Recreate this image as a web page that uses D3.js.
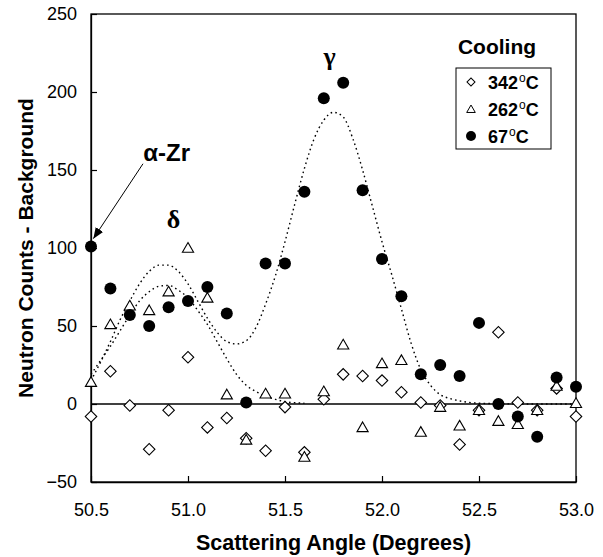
<!DOCTYPE html>
<html>
<head>
<meta charset="utf-8">
<script src="https://cdn.jsdelivr.net/npm/d3@7"></script>
<style>
  body { margin: 0; background: #fff; }
  svg { display: block; font-family: "Liberation Sans", Arial, Helvetica, sans-serif; }
</style>
</head>
<body>
<svg id="chart" width="603" height="557"></svg>
<script>
// ---- data ----
const angles = [50.5,50.6,50.7,50.8,50.9,51.0,51.1,51.2,51.3,51.4,51.5,51.6,51.7,51.8,51.9,52.0,52.1,52.2,52.3,52.4,52.5,52.6,52.7,52.8,52.9,53.0];
const counts342 = [-8,21,-1,-29,-4,30,-15,-9,-22,-30,-2,-31,3,19,18,15,7.5,1,-1,-26,-4,46,1,-4,10,-8];
const counts262 = [14,51,63,60,72,100,68,6,-23,6.6,6.6,-34,8,38,-15,26,28,-18,-2,-14,-4,-11,-13,-4,11.5,0.5];
const counts67  = [101,74,57,50,62,66,75,58,1,90,90,136,196,206,137,93,69,19,25,18,52,0,-8,-21,17,11];

// fitted curves
const fit67X = [50.50,50.55,50.60,50.65,50.70,50.75,50.80,50.85,50.90,50.95,51.00,51.05,51.10,51.15,51.20,51.25,51.30,51.35,51.40,51.45,51.50,51.55,51.60,51.65,51.70,51.75,51.80,51.85,51.90,51.95,52.00,52.05,52.10,52.15,52.20,52.25,52.30,52.35,52.40,52.50,52.60,52.70,52.80,52.90,53.00];
const fit67Y = [15,27,40,54,66,77,85,89,89,85,77,66,55,46,40,38.5,40.5,49,64,82,104,128,151,170,182,187,184,170,150,127,104,83,61,39,22,12,6,3.5,2,0.5,0.2,0,0,0,0];
const fit262X = [50.50,50.55,50.60,50.65,50.70,50.75,50.80,50.85,50.90,50.95,51.00,51.05,51.10,51.15,51.20,51.25,51.30,51.35,51.40,51.45,51.50,51.60];
const fit262Y = [19,28,37,47,57,66,72,75.5,76,73,68,60,51,40,29,19,12,8,5,3,1.5,0.5];

const xTicks = [50.5,51.0,51.5,52.0,52.5,53.0];
const yTicks = [-50,0,50,100,150,200,250];
const seriesNames = ["342", "262", "67"];
const legendTitle = "Cooling";

// ---- layout ----
const W = 603, H = 557;
const margin = {left: 91, top: 14, right: 27, bottom: 75};
const svg = d3.select("#chart");
const x = d3.scaleLinear().domain([50.5, 53.0]).range([margin.left, W - margin.right]);
const y = d3.scaleLinear().domain([-50, 250]).range([H - margin.bottom, margin.top]);

// frame
svg.append("rect")
  .attr("x", x(50.5)).attr("y", y(250))
  .attr("width", x(53.0) - x(50.5)).attr("height", y(-50) - y(250))
  .attr("fill", "none").attr("stroke", "#000").attr("stroke-width", 1.3);

// axes
const xAxis = d3.axisBottom(x).tickValues(xTicks).tickFormat(d3.format(".1f"))
  .tickSizeInner(-6).tickSizeOuter(0).tickPadding(21);
const gx = svg.append("g").attr("transform", `translate(0,${y(-50)})`).call(xAxis);
const yAxis = d3.axisLeft(y).tickValues(yTicks).tickFormat(d3.format("d"))
  .tickSizeInner(-6).tickSizeOuter(0).tickPadding(14);
const gy = svg.append("g").attr("transform", `translate(${x(50.5)},0)`).call(yAxis);
[gx, gy].forEach(g => {
  g.selectAll("text").attr("font-size", 18).attr("fill", "#000")
    .attr("font-family", "'Liberation Sans', Arial, sans-serif");
  g.selectAll("line").attr("stroke", "#000").attr("stroke-width", 1.2);
  g.select(".domain").attr("stroke", "#000").attr("stroke-width", 1.3);
});

// axis titles
svg.append("text")
  .attr("x", (x(50.5) + x(53.0)) / 2).attr("y", 550)
  .attr("text-anchor", "middle").attr("font-size", 21.5).attr("font-weight", "bold")
  .text("Scattering Angle (Degrees)");
svg.append("text")
  .attr("transform", `translate(33,${(y(-50) + y(250)) / 2}) rotate(-90)`)
  .attr("text-anchor", "middle").attr("font-size", 21).attr("font-weight", "bold")
  .text("Neutron Counts - Background");

// zero line
svg.append("line")
  .attr("x1", x(50.5)).attr("x2", x(53.0)).attr("y1", y(0)).attr("y2", y(0))
  .attr("stroke", "#000").attr("stroke-width", 1.3);

// fitted curves
const line = d3.line().x(d => x(d[0])).y(d => y(d[1])).curve(d3.curveMonotoneX);
[[fit67X, fit67Y], [fit262X, fit262Y]].forEach(([xs, ys]) => {
  svg.append("path")
    .datum(xs.map((v, i) => [v, ys[i]]))
    .attr("d", line)
    .attr("fill", "none").attr("stroke", "#000").attr("stroke-width", 1.4)
    .attr("stroke-dasharray", "1.6,3.2");
});

// markers
const symDiamond = d3.symbol().type(d3.symbolSquare).size(66);
const symTriangle = d3.symbol().type(d3.symbolTriangle).size(54);
const symCircle = d3.symbol().type(d3.symbolCircle).size(Math.PI * 6 * 6);

function drawSeries(vals, kind) {
  const g = svg.append("g");
  vals.forEach((v, i) => {
    const px = x(angles[i]), py = y(v);
    if (kind === 0) {
      g.append("path").attr("d", symDiamond())
        .attr("transform", `translate(${px},${py}) rotate(45)`)
        .attr("fill", "#fff").attr("stroke", "#000").attr("stroke-width", 1.1);
    } else if (kind === 1) {
      g.append("path").attr("d", symTriangle())
        .attr("transform", `translate(${px},${py + 1})`)
        .attr("fill", "#fff").attr("stroke", "#000").attr("stroke-width", 1.1);
    } else {
      g.append("path").attr("d", symCircle())
        .attr("transform", `translate(${px},${py})`)
        .attr("fill", "#000");
    }
  });
}
drawSeries(counts342, 0);
drawSeries(counts262, 1);
drawSeries(counts67, 2);

// annotations
svg.append("text")
  .attr("x", x(50.89)).attr("y", y(156))
  .attr("text-anchor", "middle").attr("font-size", 24).attr("font-weight", "bold")
  .text("α-Zr");
svg.append("text")
  .attr("x", x(50.925)).attr("y", y(113))
  .attr("text-anchor", "middle").attr("font-size", 26).attr("font-weight", "bold")
  .attr("font-family", "'Liberation Serif', 'Times New Roman', serif")
  .text("δ");
svg.append("text")
  .attr("x", x(51.73)).attr("y", y(217))
  .attr("text-anchor", "middle").attr("font-size", 26).attr("font-weight", "bold")
  .attr("font-family", "'Liberation Serif', 'Times New Roman', serif")
  .text("γ");

// arrow
const defs = svg.append("defs");
defs.append("marker").attr("id", "arr")
  .attr("viewBox", "0 0 10 10").attr("refX", 10).attr("refY", 5)
  .attr("markerWidth", 11).attr("markerHeight", 11).attr("markerUnits", "userSpaceOnUse")
  .attr("orient", "auto")
  .append("path").attr("d", "M0,1 L10,5 L0,9 Z").attr("fill", "#000");
svg.append("line")
  .attr("x1", x(50.768)).attr("y1", y(154))
  .attr("x2", x(50.512)).attr("y2", y(106))
  .attr("stroke", "#000").attr("stroke-width", 1)
  .attr("marker-end", "url(#arr)");

// legend
svg.append("text").attr("x", 497).attr("y", 54)
  .attr("text-anchor", "middle").attr("font-size", 21).attr("font-weight", "bold")
  .text(legendTitle);
svg.append("rect").attr("x", 456).attr("y", 68).attr("width", 95).attr("height", 81)
  .attr("fill", "#fff").attr("stroke", "#000").attr("stroke-width", 1);
const legY = [82, 109, 136];
seriesNames.forEach((name, i) => {
  const cy = legY[i];
  if (i === 0) {
    svg.append("path").attr("d", d3.symbol().type(d3.symbolSquare).size(32)())
      .attr("transform", `translate(471,${cy}) rotate(45)`)
      .attr("fill", "#fff").attr("stroke", "#000").attr("stroke-width", 1);
  } else if (i === 1) {
    svg.append("path").attr("d", d3.symbol().type(d3.symbolTriangle).size(32)())
      .attr("transform", `translate(471,${cy + 1})`)
      .attr("fill", "#fff").attr("stroke", "#000").attr("stroke-width", 1);
  } else {
    svg.append("path").attr("d", d3.symbol().type(d3.symbolCircle).size(Math.PI * 25)())
      .attr("transform", `translate(471,${cy})`).attr("fill", "#000");
  }
  const t = svg.append("text").attr("x", 488).attr("y", cy + 6.5)
    .attr("font-size", 18).attr("font-weight", "bold");
  t.append("tspan").text(name);
  t.append("tspan").attr("dy", -7).attr("font-size", 12).attr("font-weight", "normal").attr("dx", 1).text("o");
  t.append("tspan").attr("dy", 7).text("C");
});
</script>
</body>
</html>
